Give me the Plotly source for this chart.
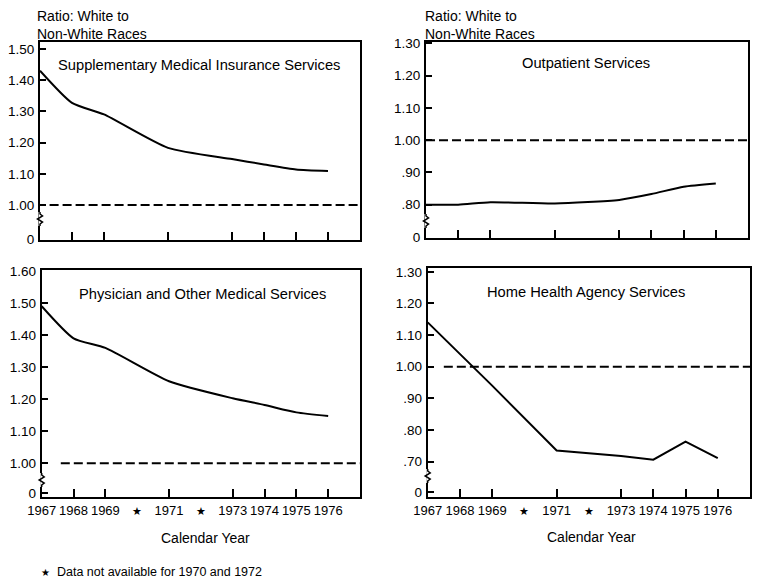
import plotly.graph_objects as go

# ---------------- data ----------------
years = [1967, 1968, 1969, 1971, 1973, 1974, 1975, 1976]
smi_ratio = [1.43, 1.327, 1.29, 1.183, 1.147, 1.13, 1.114, 1.109]
outpatient_ratio = [0.80, 0.80, 0.808, 0.804, 0.815, 0.833, 0.856, 0.866]
physician_ratio = [1.49, 1.39, 1.36, 1.256, 1.203, 1.182, 1.159, 1.148]
home_health_ratio = [1.14, 1.04, 0.94, 0.735, 0.718, 0.706, 0.763, 0.711]

parity_value = 1.00
parity_start = [1967.3, 1967.0, 1967.6, 1967.5]
parity_end = 1977

tick_years = [1968, 1969, 1971, 1973, 1974, 1975, 1976]
label_years = [1967, 1968, 1969, 1970, 1971, 1972, 1973, 1974, 1975, 1976]
STAR = "<span style='font-size:11px'>★</span>"
label_text = ["1967", "1968", "1969", STAR, "1971", STAR, "1973", "1974", "1975", "1976"]

titles = ["Supplementary Medical Insurance Services", "Outpatient Services",
          "Physician and Other Medical Services", "Home Health Agency Services"]

# y ticks (value, label) per panel ; first entry is the broken-axis zero
ytl_vals = [0.891, 1.0, 1.1, 1.2, 1.3, 1.4, 1.5]
ytl_text = ["0", "1.00", "1.10", "1.20", "1.30", "1.40", "1.50"]
ytr_vals = [0.70, 0.8, 0.9, 1.0, 1.1, 1.2, 1.3]
ytr_text = ["0", ".80", ".90", "1.00", "1.10", "1.20", "1.30"]
ybl_vals = [0.9065, 1.0, 1.1, 1.2, 1.3, 1.4, 1.5, 1.6]
ybl_text = ["0", "1.00", "1.10", "1.20", "1.30", "1.40", "1.50", "1.60"]
ybr_vals = [0.603, 0.7, 0.8, 0.9, 1.0, 1.1, 1.2, 1.3]
ybr_text = ["0", ".70", ".80", ".90", "1.00", "1.10", "1.20", "1.30"]

# page has an 8px body margin: figure sits at (8, 8)
OFF = 8
W, H = 760 - OFF, 586 - OFF
FONT = "Liberation Sans, Arial, Helvetica, sans-serif"


def px(x, y):
    return (x - OFF) / W, 1 - (y - OFF) / H


def xdom(l, r):
    return [(l - OFF) / W, (r - OFF) / W]


def ydom(top, bottom):
    return [1 - (bottom - OFF) / H, 1 - (top - OFF) / H]


fig = go.Figure()

series = [smi_ratio, outpatient_ratio, physician_ratio, home_health_ratio]
shapes_kind = ["spline", "spline", "spline", "linear"]
for i, vals in enumerate(series):
    n = "" if i == 0 else str(i + 1)
    fig.add_trace(go.Scatter(
        x=years, y=vals, mode="lines", xaxis="x" + n, yaxis="y" + n,
        line=dict(color="black", width=2, shape=shapes_kind[i], smoothing=0.6),
        showlegend=False, hoverinfo="skip"))
    fig.add_trace(go.Scatter(
        x=[parity_start[i], parity_end], y=[parity_value, parity_value],
        mode="lines", xaxis="x" + n, yaxis="y" + n,
        line=dict(color="black", width=2, dash="9px,4px"),
        showlegend=False, hoverinfo="skip"))

# dummy traces to activate label axes
for ax, ya in [("x5", "y3"), ("x6", "y4")]:
    fig.add_trace(go.Scatter(x=[None], y=[None], xaxis=ax, yaxis=ya, showlegend=False))

common_x = dict(range=[1967, 1977], showgrid=False, zeroline=False, showline=True,
                mirror=True, linecolor="black", linewidth=2, ticks="inside",
                ticklen=8, tickwidth=2, tickcolor="black", tickvals=tick_years,
                showticklabels=False, automargin=False)
common_y = dict(showgrid=False, zeroline=False, showline=True, mirror=True,
                linecolor="black", linewidth=2, ticks="inside", ticklen=6,
                tickwidth=2, tickcolor="black", ticklabelstandoff=1, automargin=False,
                tickfont=dict(family=FONT, size=13.5, color="black"))

layout = dict(
    width=W, height=H, margin=dict(l=0, r=0, t=0, b=0, autoexpand=False),
    paper_bgcolor="white", plot_bgcolor="white",
    font=dict(family=FONT, size=14, color="black"),
    xaxis=dict(common_x, domain=xdom(40, 360), anchor="y"),
    yaxis=dict(common_y, domain=ydom(42, 240), anchor="x", range=[0.888, 1.522],
               tickvals=ytl_vals, ticktext=ytl_text),
    xaxis2=dict(common_x, domain=xdom(426, 748), anchor="y2"),
    yaxis2=dict(common_y, domain=ydom(42, 238), anchor="x2", range=[0.697, 1.304],
                tickvals=ytr_vals, ticktext=ytr_text),
    xaxis3=dict(common_x, domain=xdom(41.7, 360), anchor="y3"),
    yaxis3=dict(common_y, domain=ydom(270, 496.7), anchor="x3", range=[0.896, 1.603],
                tickvals=ybl_vals, ticktext=ybl_text),
    xaxis4=dict(common_x, domain=xdom(427.7, 750), anchor="y4"),
    yaxis4=dict(common_y, domain=ydom(268.3, 496.7), anchor="x4", range=[0.589, 1.311],
                tickvals=ybr_vals, ticktext=ybr_text),
)
for ax, base, ya in [("xaxis5", "x3", "y3"), ("xaxis6", "x4", "y4")]:
    layout[ax] = dict(overlaying=base, anchor=ya, side="bottom", range=[1967, 1977],
                      showgrid=False, zeroline=False, showline=False, ticks="",
                      tickvals=label_years, ticktext=label_text, ticklabelstandoff=4,
                      automargin=False, tickangle=0,
                      tickfont=dict(family=FONT, size=13, color="black"))
fig.update_layout(**layout)

# annotations
ann = []
for xx in (35, 423):
    x, y = px(xx, 6)
    ann.append(dict(x=x, y=y, xref="paper", yref="paper", xanchor="left", yanchor="top",
                    align="left", showarrow=False,
                    text="Ratio: White to<br>Non-White Races", font=dict(size=14)))
title_pos = [(199, 65), (586, 63), (203, 294), (586, 292)]
for t, (xx, yy) in zip(titles, title_pos):
    x, y = px(xx, yy)
    ann.append(dict(x=x, y=y, xref="paper", yref="paper", xanchor="center",
                    yanchor="middle", showarrow=False, text=t, font=dict(size=14.7)))
for xx, yy in [(206, 538), (591, 537)]:
    x, y = px(xx, yy)
    ann.append(dict(x=x, y=y, xref="paper", yref="paper", xanchor="center",
                    yanchor="middle", showarrow=False, text="Calendar Year",
                    font=dict(size=14)))
x, y = px(39, 572)
ann.append(dict(x=x, y=y, xref="paper", yref="paper", xanchor="left", yanchor="middle",
                showarrow=False,
                text="<span style='font-size:10px'>★</span>  Data not available for 1970 and 1972",
                font=dict(size=12.5)))
fig.update_layout(annotations=ann)

# broken-axis zigzags
shapes = []
for cx, cy in [(40, 219), (426, 221), (41.7, 480), (427.7, 476)]:
    x0, y0 = px(cx, cy - 7)
    x1, y1 = px(cx, cy + 7)
    shapes.append(dict(type="line", xref="paper", yref="paper", x0=x0, y0=y0, x1=x1, y1=y1,
                       line=dict(color="white", width=3), layer="above"))
    pts = [(cx, cy - 7), (cx, cy - 5), (cx + 2.5, cy - 3), (cx - 2.5, cy),
           (cx + 2.5, cy + 3), (cx, cy + 5), (cx, cy + 7)]
    path = ""
    for k, (a, b) in enumerate(pts):
        pa, pb = px(a, b)
        path += ("M" if k == 0 else "L") + f"{pa:.5f},{pb:.5f}"
    shapes.append(dict(type="path", xref="paper", yref="paper", path=path,
                       line=dict(color="black", width=1.5), layer="above"))
fig.update_layout(shapes=shapes)

fig.write_html("out.html")
